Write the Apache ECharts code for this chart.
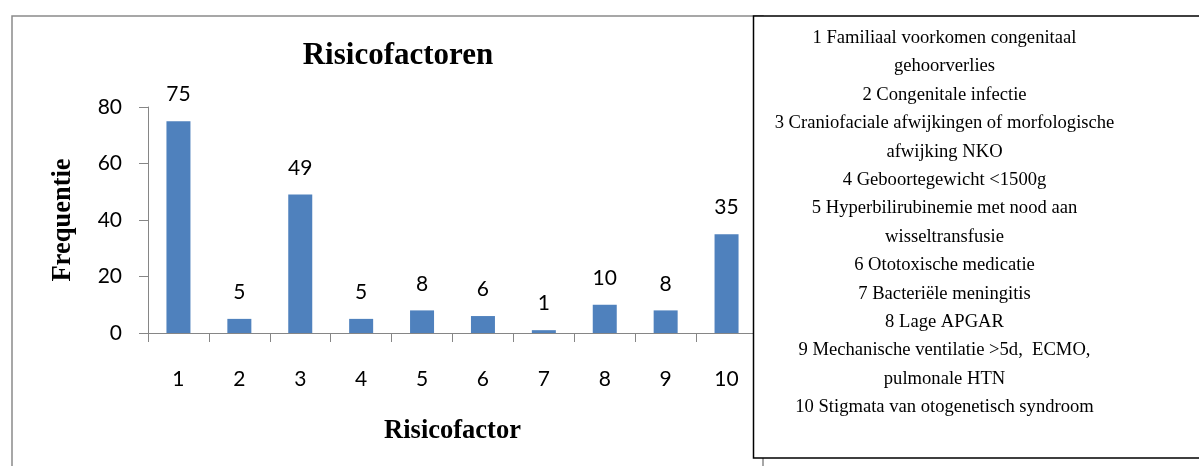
<!DOCTYPE html>
<html>
<head>
<meta charset="utf-8">
<script src="https://cdn.jsdelivr.net/npm/echarts@6/dist/echarts.min.js"></script>
<style>
  html, body { margin: 0; padding: 0; background: #ffffff; }
  #chart { width: 1199px; height: 466px; }
</style>
</head>
<body>
<div id="chart"></div>
<script>
// Risk factor numbers (1..10) and how often each occurred
const categories = ['1', '2', '3', '4', '5', '6', '7', '8', '9', '10'];
const frequencies = [75, 5, 49, 5, 8, 6, 1, 10, 8, 35];
const yTicks = [0, 20, 40, 60, 80];

// Key explaining each risk factor number
const legendLines = [
  '1 Familiaal voorkomen congenitaal',
  'gehoorverlies',
  '2 Congenitale infectie',
  '3 Craniofaciale afwijkingen of morfologische',
  'afwijking NKO',
  '4 Geboortegewicht <1500g',
  '5 Hyperbilirubinemie met nood aan',
  'wisseltransfusie',
  '6 Ototoxische medicatie',
  '7 Bacteriële meningitis',
  '8 Lage APGAR',
  '9 Mechanische ventilatie >5d,  ECMO,',
  'pulmonale HTN',
  '10 Stigmata van otogenetisch syndroom'
];

const chart = echarts.init(document.getElementById('chart'), null, { renderer: 'canvas' });

const axisGrey = '#868686';
const labelFont = 'Lato, "Open Sans", sans-serif';
const serif = '"Liberation Serif", "Times New Roman", serif';

chart.setOption({
  animation: false,
  backgroundColor: '#ffffff',
  title: {
    text: 'Risicofactoren',
    left: 398,
    top: 40,
    textAlign: 'center',
    padding: 0,
    textStyle: { fontFamily: serif, fontWeight: 'bold', fontSize: 31, color: '#000000' }
  },
  grid: { left: 148, right: 442, top: 107, bottom: 133, containLabel: false },
  xAxis: {
    type: 'category',
    data: categories,
    name: 'Risicofactor',
    nameLocation: 'middle',
    nameGap: 85,
    nameTextStyle: { fontFamily: serif, fontWeight: 'bold', fontSize: 26.5, color: '#000000' },
    axisLine: { lineStyle: { color: axisGrey, width: 1 } },
    axisTick: { show: true, length: 9, alignWithLabel: false, lineStyle: { color: axisGrey } },
    axisLabel: { margin: 36, fontFamily: labelFont, fontSize: 21, color: '#000000' },
    splitLine: { show: false }
  },
  yAxis: {
    type: 'value',
    min: yTicks[0],
    max: yTicks[yTicks.length - 1],
    interval: yTicks[1] - yTicks[0],
    name: 'Frequentie',
    nameLocation: 'middle',
    nameGap: 71,
    nameTextStyle: { fontFamily: serif, fontWeight: 'bold', fontSize: 26.5, color: '#000000' },
    axisLine: { show: true, lineStyle: { color: axisGrey, width: 1 } },
    axisTick: { show: true, length: 9, lineStyle: { color: axisGrey } },
    axisLabel: { margin: 26, fontFamily: labelFont, fontSize: 21, color: '#000000' },
    splitLine: { show: false }
  },
  series: [{
    type: 'bar',
    data: frequencies,
    barWidth: 24,
    itemStyle: { color: '#4f81bd' },
    label: {
      show: true,
      position: 'top',
      distance: 16,
      fontFamily: labelFont,
      fontSize: 21,
      color: '#000000'
    }
  }],
  graphic: [
    {
      // outer chart frame
      type: 'rect',
      z: -10,
      shape: { x: 12, y: 16, width: 751, height: 470 },
      style: { fill: '#ffffff', stroke: '#8a8a8a', lineWidth: 1.5 }
    },
    {
      // key box on the right
      type: 'rect',
      z: 10,
      shape: { x: 753.5, y: 16, width: 470, height: 442 },
      style: { fill: '#ffffff', stroke: '#000000', lineWidth: 1.5 }
    },
    {
      type: 'text',
      z: 11,
      x: 944.5,
      y: 24,
      style: {
        text: legendLines.join('\n'),
        fontFamily: serif,
        fontSize: 18.6,
        lineHeight: 28.4,
        align: 'center',
        verticalAlign: 'top',
        fill: '#000000'
      }
    }
  ]
});
</script>
</body>
</html>
